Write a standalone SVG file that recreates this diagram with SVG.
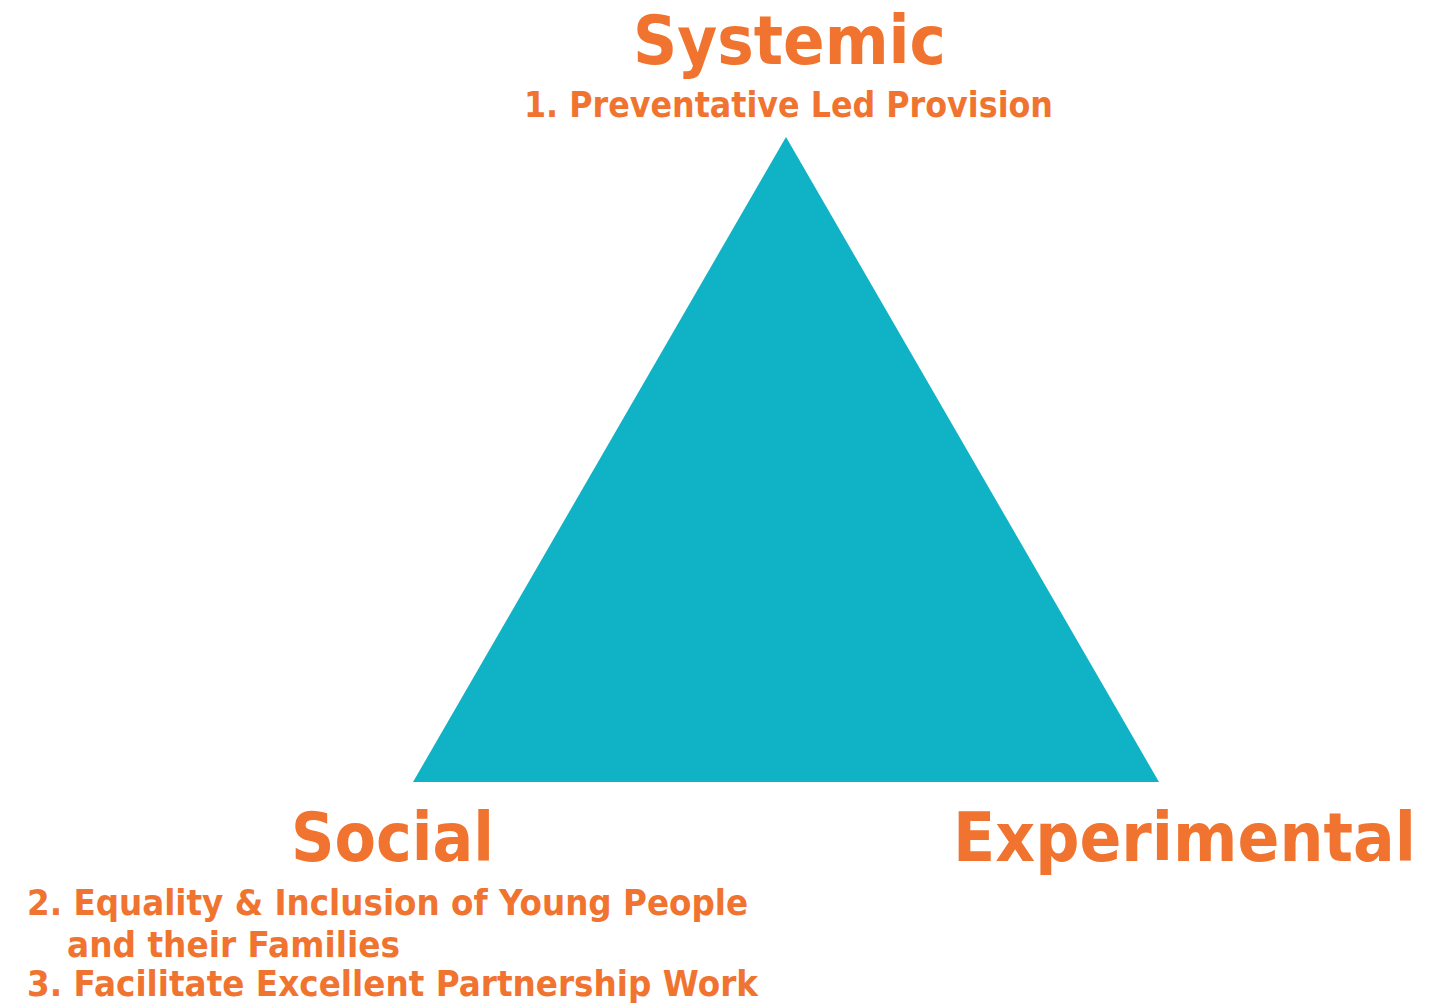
<svg xmlns="http://www.w3.org/2000/svg" width="1449" height="1004" viewBox="0 0 1449 1004">
  <style>
    .label { font-family: "DejaVu Sans", "Liberation Sans", sans-serif; font-weight: bold; fill: #F0742F; }
    .title { font-size: 67px; }
    .item { font-size: 35px; }
    .tri { fill: #10B2C6; }
  </style>
  <rect width="1449" height="1004" fill="#FFFFFF"/>

  <!-- central triangle -->
  <g id="triangle">
    <polygon class="tri" points="786,137 1159,782 413,782"/>
  </g>

  <!-- top vertex -->
  <g id="systemic">
    <text class="label title" x="633" y="64" textLength="313" lengthAdjust="spacingAndGlyphs">Systemic</text>
    <text class="label item" x="524" y="117" textLength="529" lengthAdjust="spacingAndGlyphs">1. Preventative Led Provision</text>
  </g>

  <!-- bottom-left vertex -->
  <g id="social">
    <text class="label title" x="291" y="861" textLength="203" lengthAdjust="spacingAndGlyphs">Social</text>
    <text class="label item" x="27" y="915" textLength="721" lengthAdjust="spacingAndGlyphs">2. Equality &amp; Inclusion of Young People</text>
    <text class="label item" x="67" y="957" textLength="333" lengthAdjust="spacingAndGlyphs">and their Families</text>
    <text class="label item" x="27" y="996" textLength="731" lengthAdjust="spacingAndGlyphs">3. Facilitate Excellent Partnership Work</text>
  </g>

  <!-- bottom-right vertex -->
  <g id="experimental">
    <text class="label title" x="953" y="861" textLength="463" lengthAdjust="spacingAndGlyphs">Experimental</text>
  </g>

  <g id="connectors"/>
</svg>
